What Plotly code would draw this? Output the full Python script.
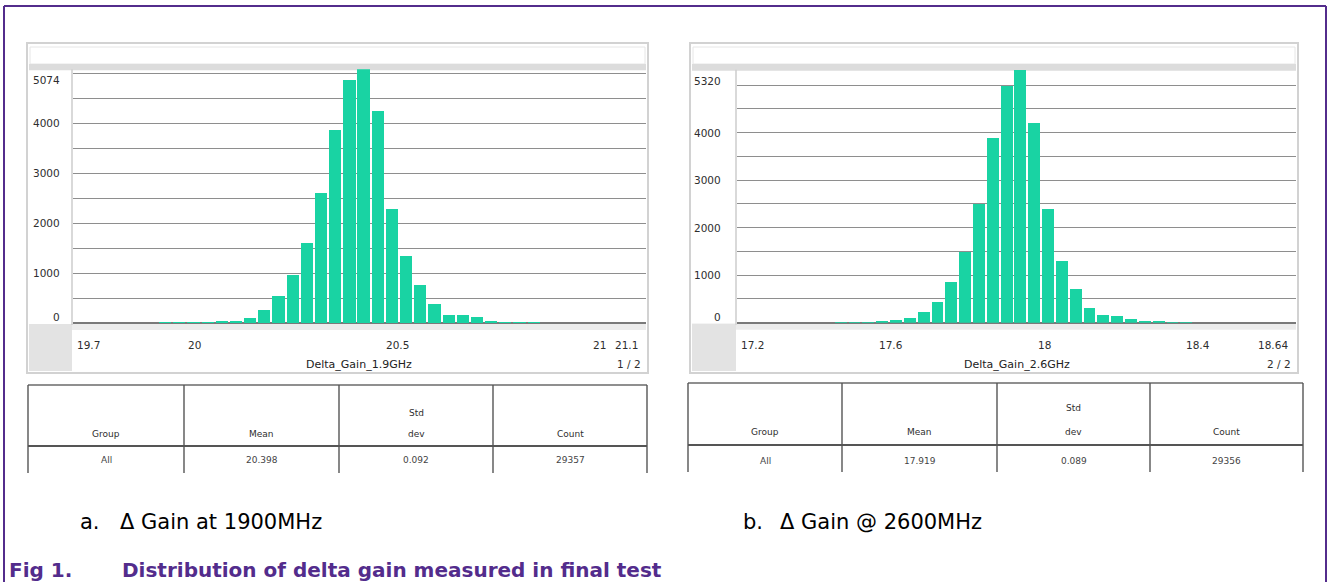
import plotly.graph_objects as go

# ---------------- data ----------------
left_bin_start = 19.7
left_bin_width = 0.035
left_counts = [0, 0, 0, 0, 0, 0, 8, 10, 12, 12, 20, 40, 93, 247, 527, 960, 1593, 2593,
               3850, 4860, 5074, 4240, 2280, 1340, 747, 380, 147, 147, 113, 40, 13, 8, 3,
               0, 0, 0, 0, 0, 0, 0]
left_xticks = [19.7, 20, 20.5, 21, 21.1]
left_xtick_text = ["19.7", "20", "20.5", "21", "21.1"]
left_ymax = 5074
left_title = "Delta_Gain_1.9GHz"
left_page = "1 / 2"
left_stats = ["All", "20.398", "0.092", "29357"]

right_bin_start = 17.2
right_bin_width = 0.036
right_counts = [0, 0, 0, 0, 0, 0, 0, 5, 10, 14, 21, 56, 112, 231, 442, 862, 1490, 2500,
                3900, 4980, 5320, 4200, 2400, 1310, 722, 315, 161, 147, 91, 35, 21, 8, 3,
                0, 0, 0, 0, 0, 0, 0]
right_xticks = [17.2, 17.6, 18, 18.4, 18.64]
right_xtick_text = ["17.2", "17.6", "18", "18.4", "18.64"]
right_ymax = 5320
right_title = "Delta_Gain_2.6GHz"
right_page = "2 / 2"
right_stats = ["All", "17.919", "0.089", "29356"]

y_ticks = [0, 1000, 2000, 3000, 4000]
table_header_top = ["", "", "Std", ""]
table_header = ["Group", "Mean", "dev", "Count"]

caption_a = ("a.", "\u0394 Gain at 1900MHz")
caption_b = ("b.", "\u0394 Gain @ 2600MHz")
fig_label = "Fig 1."
fig_title = "Distribution of delta gain measured in final test"

# ---------------- helpers ----------------
W, H = 1331, 582
def fx(px):
    return px / W
def fy(py):
    return 1 - py / H

BAR = "#19d3a3"
GRID = "#8e8e8e"
TXT = "#2e2e2e"
FONT = "DejaVu Sans"
PURPLE = "#532c8c"

fig = go.Figure()
shapes = []
annotations = []

def rect(x0, y0, x1, y1, fill=None, line=None, lw=1):
    shapes.append(dict(type="rect", xref="paper", yref="paper",
                       x0=fx(x0), x1=fx(x1), y0=fy(y1), y1=fy(y0),
                       fillcolor=fill if fill else "rgba(0,0,0,0)",
                       line=dict(color=line if line else "rgba(0,0,0,0)", width=lw if line else 0),
                       layer="below"))

def hline(x0, x1, y, color, w):
    shapes.append(dict(type="line", xref="paper", yref="paper",
                       x0=fx(x0), x1=fx(x1), y0=fy(y), y1=fy(y),
                       line=dict(color=color, width=w)))

def vline(x, y0, y1, color, w):
    shapes.append(dict(type="line", xref="paper", yref="paper",
                       x0=fx(x), x1=fx(x), y0=fy(y0), y1=fy(y1),
                       line=dict(color=color, width=w)))

def text(x, y, s, size=10, color=TXT, anchor="center", xref="paper", yref="paper",
         yshift=0, xshift=0, family=FONT, bold=False):
    annotations.append(dict(x=x, y=y, xref=xref, yref=yref, text=("<b>%s</b>" % s) if bold else s,
                            showarrow=False, xanchor=anchor, yanchor="middle",
                            yshift=yshift, xshift=xshift,
                            font=dict(size=size, color=color, family=family)))

ppu = {1: 405.0, 2: 384.0}   # pixels per x unit of each histogram

def panel(idx, counts, start, width, ymax, xticks, xtext, title, page, stats,
          px_left, px_right, plot_left, plot_right, y0px, ytop_px, label_right,
          table_cols, table_top, table_mid, table_bot, row_y):
    xa = "xaxis" if idx == 1 else "xaxis%d" % idx
    ya = "yaxis" if idx == 1 else "yaxis%d" % idx
    xr = "x" if idx == 1 else "x%d" % idx
    yr = "y" if idx == 1 else "y%d" % idx
    centers = [start + (i + 0.5) * width for i in range(len(counts))]
    fig.add_trace(go.Bar(x=centers, y=counts, width=width * 0.86,
                         marker=dict(color=BAR, line=dict(width=0)),
                         xaxis=xr, yaxis=yr, showlegend=False, hoverinfo="x+y"))
    fig.layout[xa] = dict(domain=[fx(plot_left), fx(plot_right)],
                          range=[xticks[0], xticks[0] + (plot_right - plot_left) / ppu[idx]],
                          showgrid=False, zeroline=False, showticklabels=False, showline=False,
                          anchor=yr, fixedrange=True)
    fig.layout[ya] = dict(domain=[fy(y0px), fy(ytop_px)], range=[0, ymax],
                          tickmode="linear", tick0=0, dtick=500,
                          showgrid=True, gridcolor=GRID, gridwidth=1.4,
                          zeroline=True, zerolinecolor="#7a7a7a", zerolinewidth=2,
                          showticklabels=False, showline=False, anchor=xr, fixedrange=True)
    # panel frame
    rect(px_left, 43, px_right, 373, fill="white", line="#d2d2d2", lw=2)
    rect(px_left + 3, 47, px_right - 3, 64, fill="white", line="#e6e6e6", lw=1)
    rect(px_left + 2, 64, px_right - 2, ytop_px + 1, fill="#dcdcdc")
    rect(px_left + 2, y0px + 1, px_right - 2, y0px + 7, fill="#ececec")
    rect(px_left + 2, y0px + 1, plot_left - 1, 371, fill="#e3e3e3")
    vline(plot_left - 1, ytop_px, y0px + 2, "#cdcdcd", 1.5)
    # y tick labels
    for v in y_ticks:
        text(fx(label_right), v, str(v), size=10.5, anchor="right", yref=yr,
             yshift=6 if v == 0 else 0)
    text(fx(label_right), ymax, str(ymax), size=10.5, anchor="right", yref=yr, yshift=-11)
    # x tick labels
    for i, (v, s) in enumerate(zip(xticks, xtext)):
        anchor = "left" if i == 0 else ("right" if i == len(xticks) - 1 else "center")
        text(v, fy(345), s, size=10.5, anchor=anchor, xref=xr, xshift=2 if i == 0 else 0)
    text(fx((plot_left + plot_right) / 2), fy(364), title, size=11, color="#222222")
    text(fx(plot_right - 3), fy(364), page, size=10.5, anchor="right")
    # statistics table
    c = table_cols
    hline(c[0], c[-1], table_top, "#6a6a6a", 1.3)
    hline(c[0], c[-1], table_mid, "#555555", 2)
    for xx in c:
        vline(xx, table_top, table_bot, "#555555", 1.4)
    for j in range(4):
        cx = fx((c[j] + c[j + 1]) / 2)
        if table_header_top[j]:
            text(cx, fy(row_y[0]), table_header_top[j], size=9)
        text(cx, fy(row_y[1]), table_header[j], size=9)
        text(cx, fy(row_y[2]), stats[j], size=9, color="#444444")

panel(1, left_counts, left_bin_start, left_bin_width, left_ymax, left_xticks, left_xtick_text,
      left_title, left_page, left_stats,
      px_left=27, px_right=648, plot_left=73, plot_right=646, y0px=323, ytop_px=69.3, label_right=62,
      table_cols=[28, 184, 339, 493, 647], table_top=385, table_mid=446, table_bot=473,
      row_y=[413, 434, 460])
panel(2, right_counts, right_bin_start, right_bin_width, right_ymax, right_xticks, right_xtick_text,
      right_title, right_page, right_stats,
      px_left=690, px_right=1298, plot_left=737, plot_right=1296, y0px=322.7, ytop_px=69.8, label_right=723,
      table_cols=[688, 842, 997, 1150, 1303], table_top=383, table_mid=445, table_bot=472,
      row_y=[408, 432, 461])

# outer purple frame (no bottom edge inside the picture)
hline(4, 1326, 6, PURPLE, 2)
vline(4, 6, 582, PURPLE, 2)
vline(1326, 6, 582, PURPLE, 2)

# captions
text(fx(78), fy(522), caption_a[0], size=21, color="#000000", anchor="left")
text(fx(118), fy(522), caption_a[1], size=21, color="#000000", anchor="left")
text(fx(741), fy(522), caption_b[0], size=21, color="#000000", anchor="left")
text(fx(778), fy(522), caption_b[1], size=21, color="#000000", anchor="left")
text(fx(7), fy(570), fig_label, size=20, color=PURPLE, anchor="left", bold=True)
text(fx(120), fy(570), fig_title, size=20, color=PURPLE, anchor="left", bold=True)

fig.update_layout(width=W, height=H, margin=dict(l=0, r=0, t=0, b=0),
                  paper_bgcolor="white", plot_bgcolor="rgba(0,0,0,0)",
                  bargap=0, shapes=shapes, annotations=annotations, showlegend=False)

fig.write_html("out.html", config={"displayModeBar": False})
